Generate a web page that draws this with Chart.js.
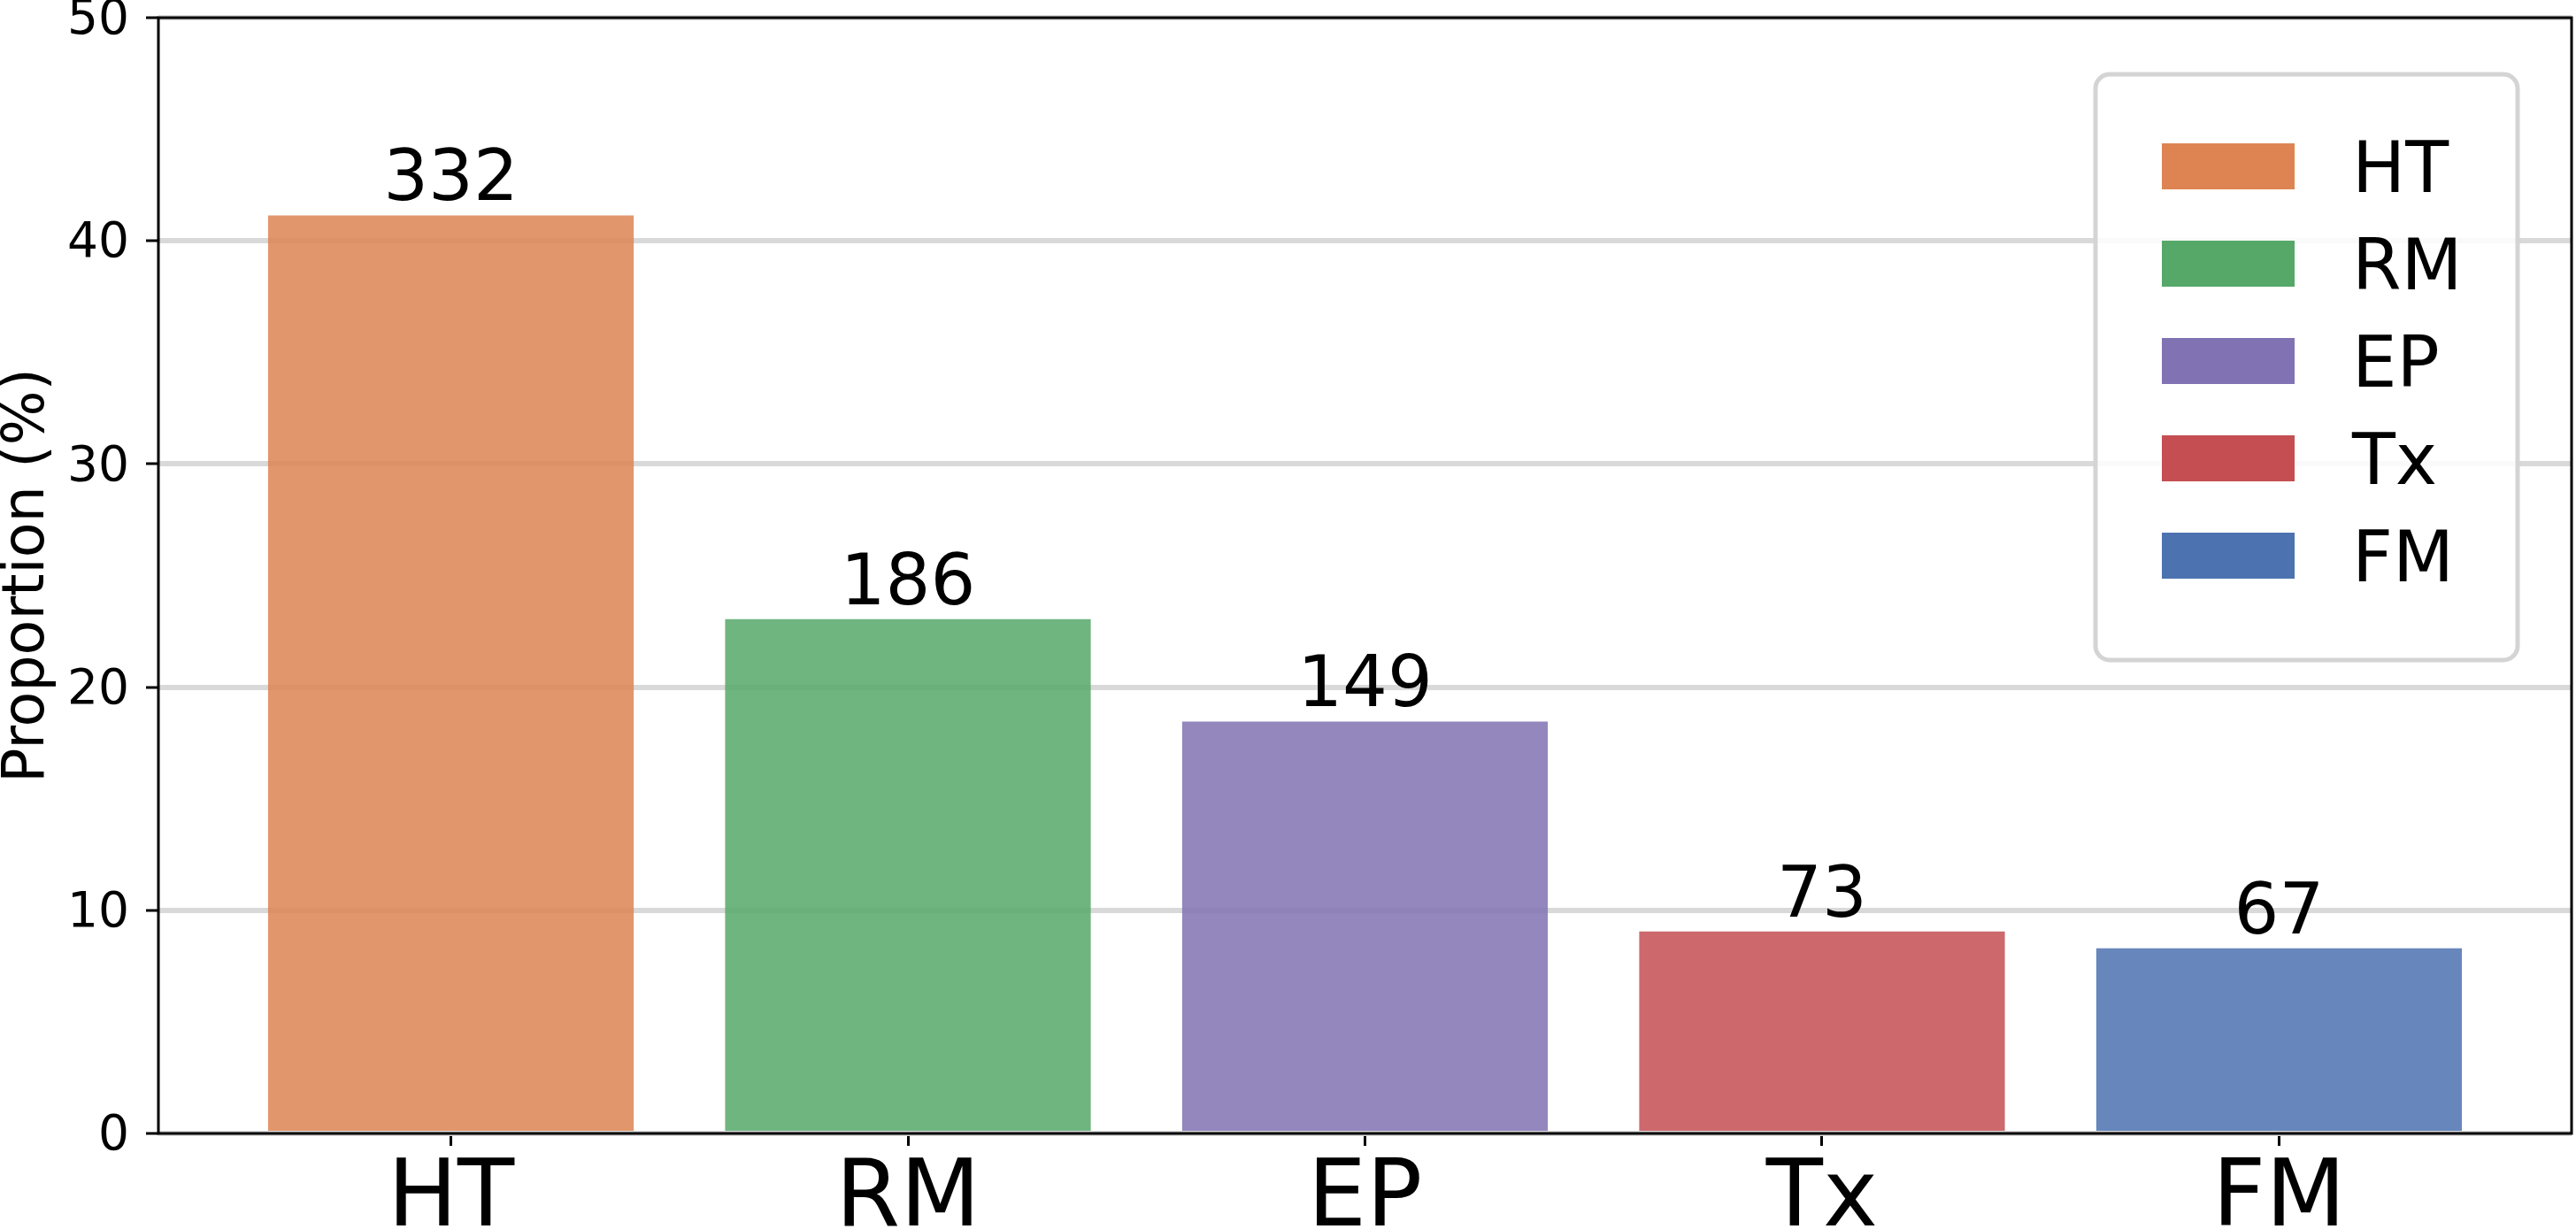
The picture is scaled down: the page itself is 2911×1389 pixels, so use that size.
<!DOCTYPE html>
<html>
<head>
<meta charset="utf-8">
<script src="https://cdn.jsdelivr.net/npm/chart.js@4"></script>
<style>
  html, body { margin: 0; padding: 0; background: #fff; }
  #wrap { width: 2911px; height: 1389px; }
</style>
</head>
<body>
<div id="wrap"><canvas id="chart" width="2911" height="1389"></canvas></div>
<script>
// categorias e valores
const categories = ['HT', 'RM', 'EP', 'Tx', 'FM'];
const proportions = [41.14, 23.05, 18.46, 9.05, 8.30];
const counts = [332, 186, 149, 73, 67];
const yTicks = [0, 10, 20, 30, 40, 50];

const colors = ['#dd8452', '#55a868', '#8172b3', '#c44e52', '#4c72b0'];
const barColors = colors.map(c => c + 'd9'); // alpha ~0.85

const FONT = 'DejaVu Sans';
Chart.defaults.color = '#000';
Chart.defaults.font.family = FONT;

// rótulos em cima das barras
const barLabels = {
    id: 'barLabels',
    afterDatasetsDraw(chart) {
        const ctx = chart.ctx;
        const meta = chart.getDatasetMeta(0);
        ctx.save();
        ctx.font = '80px "' + FONT + '"';
        ctx.fillStyle = '#000';
        ctx.textAlign = 'center';
        ctx.textBaseline = 'alphabetic';
        meta.data.forEach((bar, i) => {
            ctx.fillText(String(counts[i]), bar.x, bar.y - 17);
        });
        ctx.restore();
    }
};

// moldura + legenda dentro da área do gráfico
const frameAndLegend = {
    id: 'frameAndLegend',
    afterDraw(chart) {
        const ctx = chart.ctx;
        const a = chart.chartArea;
        ctx.save();
        ctx.strokeStyle = '#000';
        ctx.lineWidth = 3;
        ctx.strokeRect(a.left, a.top, a.right - a.left, a.bottom - a.top);

        // caixa da legenda
        const bx = a.right - 538, by = a.top + 64, bw = 477, bh = 662;
        ctx.beginPath();
        ctx.roundRect(bx, by, bw, bh, 16);
        ctx.fillStyle = 'rgba(255,255,255,0.85)';
        ctx.fill();
        ctx.lineWidth = 5;
        ctx.strokeStyle = '#d4d4d4';
        ctx.stroke();

        ctx.font = '80px "' + FONT + '"';
        ctx.textAlign = 'left';
        ctx.textBaseline = 'alphabetic';
        categories.forEach((c, i) => {
            const cy = a.top + 168 + i * 110;
            ctx.fillStyle = colors[i];
            ctx.fillRect(a.right - 463, cy - 26, 150, 52);
            ctx.fillStyle = '#000';
            ctx.fillText(c, a.right - 248, cy + 29);
        });
        ctx.restore();
    }
};

const ctx = document.getElementById('chart').getContext('2d');
const myChart = new Chart(ctx, {
    type: 'bar',
    data: {
        datasets: [{
            label: 'Proportion',
            data: categories.map((c, i) => ({ x: i, y: proportions[i] })),
            backgroundColor: barColors,
            borderWidth: 0,
            barPercentage: 0.8,
            categoryPercentage: 1
        }]
    },
    options: {
        responsive: false,
        devicePixelRatio: 1,
        animation: false,
        layout: { padding: { left: 0, right: 5, top: 20, bottom: 0 } },
        plugins: {
            legend: { display: false },
            tooltip: { enabled: false }
        },
        scales: {
            x: {
                type: 'linear',
                offset: false,
                min: -0.64,
                max: 4.64,
                afterBuildTicks: (axis) => {
                    axis.ticks = categories.map((c, i) => ({ value: i }));
                },
                afterFit: (axis) => {
                    axis.height = 108;
                    axis.paddingLeft = 0;
                    axis.paddingRight = 0;
                },
                border: { display: false },
                grid: {
                    offset: false,
                    drawOnChartArea: false,
                    drawTicks: true,
                    tickLength: 14,
                    tickColor: '#000',
                    tickWidth: 3
                },
                ticks: {
                    autoSkip: false,
                    maxRotation: 0,
                    padding: 0,
                    font: { size: 105 },
                    callback: (v) => categories[v] ?? ''
                }
            },
            y: {
                min: 0,
                max: 50,
                afterBuildTicks: (axis) => {
                    axis.ticks = yTicks.map(v => ({ value: v }));
                },
                afterFit: (axis) => {
                    axis.width = 179;
                    axis.paddingTop = 0;
                    axis.paddingBottom = 0;
                },
                border: { display: false },
                grid: {
                    color: '#d9d9d9',
                    lineWidth: 6,
                    drawTicks: true,
                    tickLength: 14,
                    tickColor: '#000',
                    tickWidth: 3
                },
                ticks: {
                    padding: 19,
                    labelOffset: 4,
                    font: { size: 55 }
                },
                title: {
                    display: true,
                    text: 'Proportion (%)',
                    font: { size: 65, lineHeight: 1 },
                    padding: 0
                }
            }
        }
    },
    plugins: [barLabels, frameAndLegend]
});
</script>
</body>
</html>
